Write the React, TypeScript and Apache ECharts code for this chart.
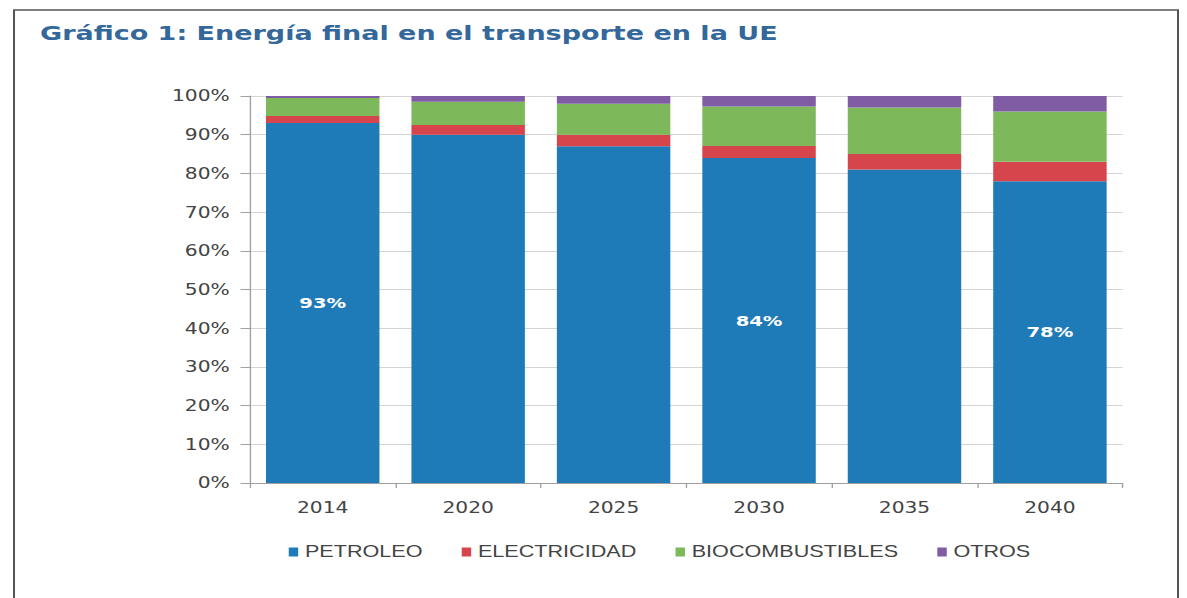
import React, { useEffect, useRef } from "react";
import * as echarts from "echarts";

// The reference image is horizontally stretched; we draw in a base space and stretch the result.
const S = 1.35;
const PAGE_W = 1187;
const PAGE_H = 598;
const BASE_W = PAGE_W / S;

const titleText = "Gráfico 1: Energía final en el transporte en la UE";
const years = ["2014", "2020", "2025", "2030", "2035", "2040"];
const seriesNames = ["PETROLEO", "ELECTRICIDAD", "BIOCOMBUSTIBLES", "OTROS"];
const petroleo = [93, 90, 87, 84, 81, 78];
const electricidad = [1.8, 2.5, 3, 3.1, 4, 5];
const biocombustibles = [4.7, 6, 8, 10.2, 12, 13];
const otros = [0.5, 1.5, 2, 2.7, 3, 4];
const labeledYears = ["2014", "2030", "2040"];
const colors = ["#1f7bb8", "#d6454b", "#7db85a", "#7f5ca3"];

export default function App() {
  const ref = useRef<HTMLDivElement>(null);

  useEffect(() => {
    if (!ref.current) return;
    const chart = echarts.init(ref.current, undefined, { renderer: "svg" });
    const valuesBySeries = [petroleo, electricidad, biocombustibles, otros];
    const series = seriesNames.map((name, i) => ({
      name,
      type: "bar" as const,
      stack: "total",
      barCategoryGap: "22%",
      itemStyle: { color: colors[i] },
      emphasis: { disabled: true },
      data:
        i === 0
          ? valuesBySeries[i].map((v, k) => ({
              value: v,
              label: { show: labeledYears.includes(years[k]) },
            }))
          : valuesBySeries[i],
      label:
        i === 0
          ? {
              show: false,
              position: "inside",
              formatter: "{c}%",
              color: "#ffffff",
              fontWeight: "bold",
              fontFamily: "DejaVu Sans",
              fontSize: 14.5,
            }
          : { show: false },
    }));

    chart.setOption({
      animation: false,
      backgroundColor: "#ffffff",
      title: {
        text: titleText,
        left: 40 / S - 5,
        top: 18,
        textStyle: {
          fontFamily: "DejaVu Sans",
          fontWeight: "bold",
          fontSize: 20,
          color: "#34679a",
        },
      },
      graphic: [
        {
          type: "rect",
          shape: { x: 14 / S, y: 10, width: (1178 - 14) / S, height: 640 },
          style: { fill: "none", stroke: "#555555", lineWidth: 1.5 },
          silent: true,
        },
      ],
      legend: {
        left: 282 / S,
        top: 539,
        icon: "rect",
        itemWidth: 7,
        itemHeight: 9,
        itemGap: 29,
        data: seriesNames,
        textStyle: {
          fontFamily: "Liberation Sans",
          fontSize: 16,
          color: "#444444",
        },
      },
      grid: {
        left: 250 / S,
        right: BASE_W - 1123 / S,
        top: 96,
        bottom: PAGE_H - 483,
        containLabel: false,
      },
      xAxis: {
        type: "category",
        data: years,
        axisLine: { show: true, lineStyle: { color: "#a0a0a0", width: 1 } },
        axisTick: { show: true, length: 5, lineStyle: { color: "#a0a0a0" } },
        axisLabel: {
          fontFamily: "DejaVu Sans",
          fontSize: 15,
          color: "#444444",
          margin: 17,
        },
      },
      yAxis: {
        type: "value",
        min: 0,
        max: 100,
        interval: 10,
        axisLine: { show: true, lineStyle: { color: "#a0a0a0", width: 1 } },
        axisTick: { show: true, length: 7, lineStyle: { color: "#a0a0a0" } },
        splitLine: { show: true, lineStyle: { color: "#d4d4d4", width: 1 } },
        axisLabel: {
          formatter: "{value}%",
          fontFamily: "DejaVu Sans",
          fontSize: 15,
          color: "#444444",
          margin: 15,
        },
      },
      series,
    });
    return () => chart.dispose();
  }, []);

  return (
    <div
      style={{
        position: "fixed",
        left: 0,
        top: 0,
        width: PAGE_W,
        height: PAGE_H,
        overflow: "hidden",
        background: "#ffffff",
      }}
    >
      <div
        ref={ref}
        style={{
          width: BASE_W,
          height: PAGE_H,
          transform: `scaleX(${S})`,
          transformOrigin: "0 0",
        }}
      />
    </div>
  );
}
